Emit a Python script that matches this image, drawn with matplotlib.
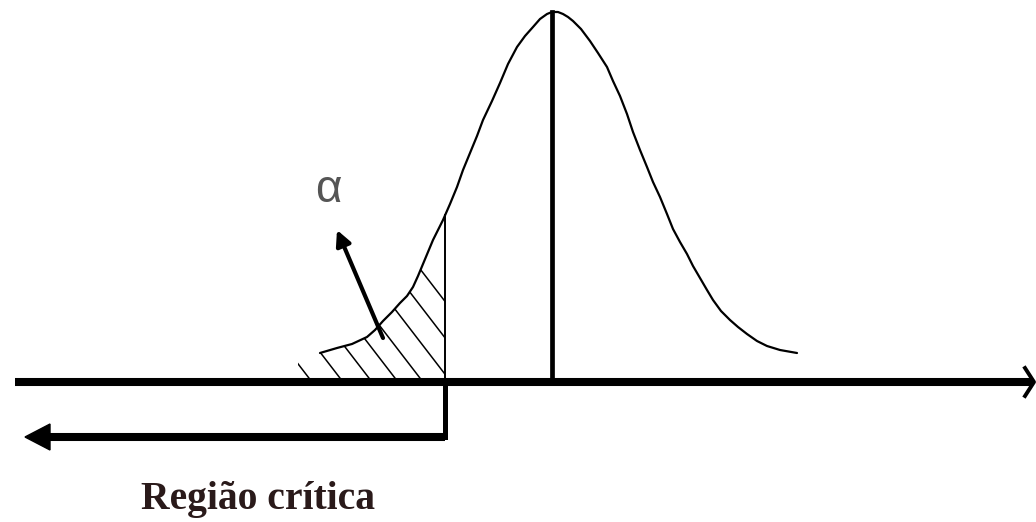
import matplotlib.pyplot as plt
import numpy as np
from matplotlib.patches import Polygon

# curve points (pixel coords, y grows downward)
curve_x = [320, 337, 352, 367, 375, 383, 392, 400, 407, 413, 418, 423, 428,
           433, 438, 443, 450, 457, 463, 470, 477, 483, 492, 500, 508, 517,
           525, 533, 540, 547, 552, 558, 563, 568, 573, 581, 590, 598, 607,
           613, 620, 627, 633, 640, 647, 653, 660, 667, 673, 680, 687, 693,
           700, 707, 713, 721, 730, 738, 747, 757, 767, 780, 797]
curve_y = [353, 348, 344, 337, 330, 321, 312, 303, 296, 287, 276, 264, 252,
           240, 230, 220, 204, 187, 170, 153, 136, 120, 101, 83, 64, 47,
           36, 27, 19, 14, 12, 12, 14, 17, 21, 29, 41, 53, 67,
           81, 96, 114, 132, 150, 167, 182, 197, 214, 229, 242, 254, 266,
           278, 290, 300, 311, 320, 327, 334, 341, 346, 350, 353]

mean_x = 552
crit_x = 445
axis_y = 382
arrow_y = 437
hatch_x0 = [312, 343, 372, 398, 423, 451, 479, 507]
hatch_slope = 1.3

alpha_label = "\u03b1"
region_label = "Região crítica"

fig = plt.figure(figsize=(10.36, 5.22), dpi=100)
ax = fig.add_axes([0, 0, 1, 1])
ax.set_xlim(0, 1036)
ax.set_ylim(522, 0)
ax.axis('off')

cx = np.array(curve_x)
cy = np.array(curve_y)
ax.plot(cx, cy, color='black', lw=1.6, solid_joinstyle='round', solid_capstyle='round')

# hatched critical area
left = cx <= crit_x
crit_top = np.interp(crit_x, cx, cy)
poly_pts = [(298, 356)] + list(zip(cx[left], cy[left])) + [(crit_x, crit_top), (crit_x, axis_y - 4), (298, axis_y - 4)]
clip = Polygon(poly_pts, closed=True, facecolor='none', edgecolor='none')
ax.add_patch(clip)
for x0 in hatch_x0:
    ys = np.array([axis_y, 150])
    xs = x0 - (axis_y - ys) / hatch_slope
    ln, = ax.plot(xs, ys, color='black', lw=1.1)
    ln.set_clip_path(clip)

# critical value line
ax.plot([crit_x, crit_x], [crit_top, axis_y], color='black', lw=1.4)
ax.plot([crit_x, crit_x], [axis_y, arrow_y], color='black', lw=3.6, solid_capstyle='projecting')

# mean line
ax.plot([mean_x, mean_x], [12, axis_y], color='black', lw=3.4)

# horizontal axis with open arrow head
ax.plot([15, 1032], [axis_y, axis_y], color='black', lw=5.8, solid_capstyle='butt')
ax.plot([1025, 1034, 1025], [368, axis_y, 396], color='black', lw=2.8)

# critical region arrow
ax.plot([crit_x, 45], [arrow_y, arrow_y], color='black', lw=5.8, solid_capstyle='butt')
ax.add_patch(Polygon([(25, arrow_y), (50, 424), (50, 450)], closed=True,
                     facecolor='black', edgecolor='black'))

# alpha pointer
ax.annotate('', xy=(337, 230), xytext=(383, 338),
            arrowprops=dict(arrowstyle='-|>,head_length=0.9,head_width=0.45',
                            color='black', lw=3.0, shrinkA=0, shrinkB=0))
ax.text(328, 190, alpha_label, fontsize=33, color='#555555',
        family='Liberation Sans', ha='center', va='center')

ax.text(258, 499, region_label, fontsize=28.5, color='#2a1a1a', fontweight='bold',
        family='Liberation Serif', ha='center', va='center')

fig.savefig('out.png', dpi=100)
